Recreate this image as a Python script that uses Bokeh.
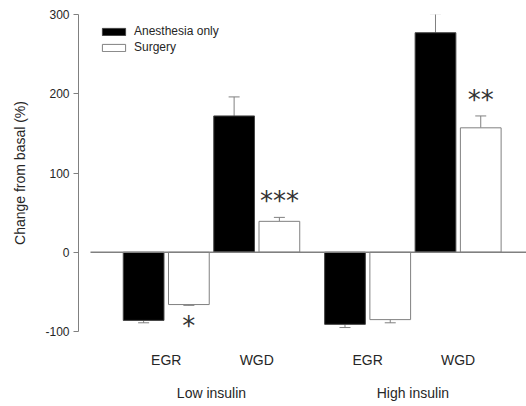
from bokeh.plotting import figure
from bokeh.models import (Range1d, FixedTicker, LinearAxis, ColumnDataSource,
                          Whisker, TeeHead, Legend, LegendItem)
from bokeh.core.properties import value
from bokeh.embed import file_html
from bokeh.resources import INLINE

# ---- data ----
groups = ["Low insulin", "High insulin"]
measures = ["EGR", "WGD", "EGR", "WGD"]
pair_pos = [0.0, 2.0, 4.45, 6.45]          # x position of each measure pair
anesthesia = [-86, 172, -91, 277]
anesthesia_err = [3, 24, 4, 24]
surgery = [-66, 39, -85, 157]
surgery_err = [1, 5, 4, 15]
sig = ["*", "***", "", "**"]
yticks = [-100, 0, 100, 200, 300]

FONT = "Liberation Sans"
GRAY = "#808080"
TXT = "#262626"

bw = 0.9
xa = [p - 0.5 for p in pair_pos]
xs = [p + 0.5 for p in pair_pos]

def tips(vals, errs):
    return [v + e if v >= 0 else v - e for v, e in zip(vals, errs)]

src_a = ColumnDataSource(dict(x=xa, top=anesthesia, tip=tips(anesthesia, anesthesia_err)))
src_s = ColumnDataSource(dict(x=xs, top=surgery, tip=tips(surgery, surgery_err)))

p = figure(width=526, height=406, output_backend="svg", toolbar_location=None,
           x_range=Range1d(-1.939, 7.961), y_range=Range1d(-100, 300),
           min_border_left=78, min_border_right=0, min_border_top=14, min_border_bottom=75,
           x_axis_location=None)
p.outline_line_color = None
p.grid.visible = False
p.background_fill_color = "white"

# y axis
ya = p.yaxis[0]
ya.ticker = FixedTicker(ticks=yticks)
ya.major_label_overrides = {t: str(t) for t in yticks}
ya.minor_tick_line_color = None
ya.major_tick_in = 0
ya.major_tick_out = 5
ya.axis_line_color = GRAY
ya.major_tick_line_color = GRAY
ya.major_label_standoff = 4
ya.major_label_text_font = FONT
ya.major_label_text_font_size = "12px"
ya.major_label_text_color = TXT
ya.axis_label = "Change from basal (%)"
ya.axis_label_text_font = FONT
ya.axis_label_text_font_size = "14px"
ya.axis_label_text_font_style = "normal"
ya.axis_label_text_color = TXT
ya.axis_label_standoff = 14

# bars
ra = p.vbar(x="x", top="top", bottom=0, width=bw, source=src_a,
            fill_color="black", line_color="#444444", line_width=1)
rs = p.vbar(x="x", top="top", bottom=0, width=bw, source=src_s,
            fill_color="white", line_color=GRAY, line_width=1)

# error bars
for src in (src_a, src_s):
    w = Whisker(base="x", lower="top", upper="tip", source=src, dimension="height",
                line_color=GRAY, line_width=1, lower_head=None,
                upper_head=TeeHead(size=11, line_color=GRAY, line_width=1))
    p.add_layout(w)

# zero baseline
p.segment(x0=[-1.674], y0=[0], x1=[7.961], y1=[0], line_color=GRAY, line_width=1.5)

# significance marks
tip_s = tips(surgery, surgery_err)
up = dict(x=[x for x, v, s in zip(xs, surgery, sig) if v >= 0 and s],
          y=[t for t, v, s in zip(tip_s, surgery, sig) if v >= 0 and s],
          t=[s for v, s in zip(surgery, sig) if v >= 0 and s])
dn = dict(x=[x for x, v, s in zip(xs, surgery, sig) if v < 0 and s],
          y=[t for t, v, s in zip(tip_s, surgery, sig) if v < 0 and s],
          t=[s for v, s in zip(surgery, sig) if v < 0 and s])
p.text(x="x", y="y", text="t", source=ColumnDataSource(up), text_align="center",
       text_baseline="bottom", y_offset=-1, text_font=value("DejaVu Sans"),
       text_font_size="26px", text_color="#333333")
p.text(x="x", y="y", text="t", source=ColumnDataSource(dn), text_align="center",
       text_baseline="top", y_offset=6, text_font=value("DejaVu Sans"),
       text_font_size="26px", text_color="#333333")

# category axes below
ax1 = LinearAxis(ticker=FixedTicker(ticks=pair_pos),
                 major_label_overrides={pp: m for pp, m in zip(pair_pos, measures)})
grp_pos = [(pair_pos[0] + pair_pos[1]) / 2, (pair_pos[2] + pair_pos[3]) / 2]
ax2 = LinearAxis(ticker=FixedTicker(ticks=grp_pos),
                 major_label_overrides={pp: g for pp, g in zip(grp_pos, groups)})
for ax, so in ((ax1, 20), (ax2, 14)):
    ax.axis_line_color = None
    ax.major_tick_line_color = None
    ax.minor_tick_line_color = None
    ax.major_tick_out = 0
    ax.major_tick_in = 0
    ax.minor_tick_out = 0
    ax.minor_tick_in = 0
    ax.major_label_standoff = so
    ax.major_label_text_font = FONT
    ax.major_label_text_font_size = "14px"
    ax.major_label_text_color = TXT
    p.add_layout(ax, "below")

legend = Legend(items=[LegendItem(label="Anesthesia only", renderers=[ra]),
                       LegendItem(label="Surgery", renderers=[rs])],
                location=(21, 276), glyph_width=29, glyph_height=9,
                label_height=16, spacing=0, padding=0, margin=0,
                label_standoff=6, label_text_font=FONT, label_text_font_size="12px",
                label_text_color=TXT, border_line_alpha=0, background_fill_alpha=0)
p.add_layout(legend)

open("out.html", "w").write(file_html(p, INLINE))
